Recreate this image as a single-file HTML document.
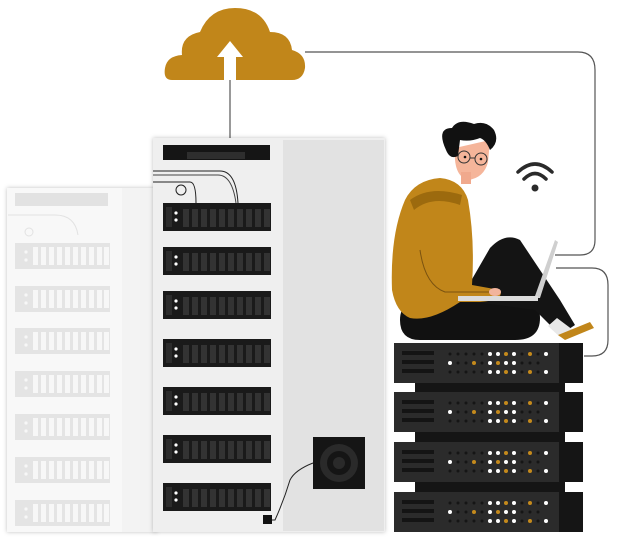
<!DOCTYPE html>
<html><head><meta charset="utf-8"><style>html,body{margin:0;padding:0;background:#fff}svg{display:block}</style></head>
<body>
<svg width="622" height="540" viewBox="0 0 622 540" xmlns="http://www.w3.org/2000/svg" xmlns:xlink="http://www.w3.org/1999/xlink">
<defs>
<g id="slot">
<rect x="0" y="0" width="108" height="28" fill="#1a1a1a"/>
<rect x="3" y="4" width="6" height="20" fill="#2c2c2c"/>
<circle cx="13" cy="10" r="1.6" fill="#fff"/><circle cx="13" cy="17" r="1.6" fill="#fff"/>
<g fill="#333">
<rect x="20" y="6" width="6" height="18"/><rect x="29" y="6" width="6" height="18"/><rect x="38" y="6" width="6" height="18"/><rect x="47" y="6" width="6" height="18"/><rect x="56" y="6" width="6" height="18"/><rect x="65" y="6" width="6" height="18"/><rect x="74" y="6" width="6" height="18"/><rect x="83" y="6" width="6" height="18"/><rect x="92" y="6" width="6" height="18"/><rect x="101" y="6" width="6" height="18"/>
</g></g>
<g id="fslot">
<rect x="0" y="0" width="95" height="26" fill="#e4e4e4"/>
<g fill="#f7f7f7">
<rect x="18" y="4" width="5" height="18"/><rect x="26" y="4" width="5" height="18"/><rect x="34" y="4" width="5" height="18"/><rect x="42" y="4" width="5" height="18"/><rect x="50" y="4" width="5" height="18"/><rect x="58" y="4" width="5" height="18"/><rect x="66" y="4" width="5" height="18"/><rect x="74" y="4" width="5" height="18"/><rect x="82" y="4" width="5" height="18"/><rect x="89" y="4" width="5" height="18"/>
<circle cx="11" cy="9" r="1.6"/><circle cx="11" cy="17" r="1.6"/></g></g>
<g id="face">
<rect x="163" y="0" width="26" height="40" fill="#151515"/>
<rect x="0" y="0" width="165" height="40" fill="#2b2b2b"/>
<rect x="8" y="8" width="32" height="4" fill="#141414"/><rect x="8" y="17" width="32" height="4" fill="#141414"/><rect x="8" y="26" width="32" height="4" fill="#141414"/>
<g fill="#151515"><circle cx="56" cy="11" r="1.5"/><circle cx="64" cy="11" r="1.5"/><circle cx="72" cy="11" r="1.5"/><circle cx="80" cy="11" r="1.5"/><circle cx="88" cy="11" r="1.5"/><circle cx="120" cy="11" r="1.5"/><circle cx="128" cy="11" r="1.5"/><circle cx="144" cy="11" r="1.5"/>
<circle cx="64" cy="20" r="1.5"/><circle cx="72" cy="20" r="1.5"/><circle cx="88" cy="20" r="1.5"/><circle cx="120" cy="20" r="1.5"/><circle cx="128" cy="20" r="1.5"/><circle cx="136" cy="20" r="1.5"/><circle cx="144" cy="20" r="1.5"/>
<circle cx="56" cy="29" r="1.5"/><circle cx="64" cy="29" r="1.5"/><circle cx="72" cy="29" r="1.5"/><circle cx="80" cy="29" r="1.5"/><circle cx="88" cy="29" r="1.5"/><circle cx="120" cy="29" r="1.5"/><circle cx="128" cy="29" r="1.5"/><circle cx="144" cy="29" r="1.5"/></g>
<g fill="#fff"><circle cx="96" cy="11" r="2"/><circle cx="104" cy="11" r="2"/><circle cx="120" cy="11" r="2"/><circle cx="152" cy="11" r="2"/>
<circle cx="56" cy="20" r="2"/><circle cx="96" cy="20" r="2"/><circle cx="112" cy="20" r="2"/><circle cx="120" cy="20" r="2"/>
<circle cx="96" cy="29" r="2"/><circle cx="104" cy="29" r="2"/><circle cx="120" cy="29" r="2"/><circle cx="152" cy="29" r="2"/></g>
<g fill="#c58a1c"><circle cx="112" cy="11" r="2"/><circle cx="136" cy="11" r="2"/><circle cx="80" cy="20" r="2"/><circle cx="104" cy="20" r="2"/><circle cx="112" cy="29" r="2"/><circle cx="136" cy="29" r="2"/></g>
</g>
<g id="unit"><rect x="21" y="40" width="150" height="10" fill="#151515"/><use xlink:href="#face"/></g>
<filter id="sh" x="-10%" y="-10%" width="120%" height="120%"><feDropShadow dx="0" dy="0" stdDeviation="2" flood-opacity="0.25"/></filter>
</defs>

<g fill="none" stroke="#555" stroke-width="1.2">
<path d="M230 80 V138"/>
<path d="M305 52 H578 Q595 52 595 70 V240 Q595 255 580 255 H555"/>
<path d="M556 268 H592 Q608 268 608 285 V340 Q608 356 592 356 H584"/>
</g>

<path d="M172 80 Q163 80 165 68 Q167 56 182 55 Q180 36 200 32 Q210 8 235 8 Q262 8 270 32 Q290 32 292 50 Q306 54 305 68 Q303 80 292 80 Z" fill="#c1861a"/>
<path d="M230 41 L243 57 H236 V80 H224 V57 H217 Z" fill="#fff"/>

<g filter="url(#sh)"><rect x="7" y="188" width="150" height="344" fill="#f8f8f8"/></g>
<rect x="122" y="188" width="35" height="344" fill="#f3f3f3"/>
<rect x="15" y="193" width="93" height="13" fill="#e2e2e2"/>
<g fill="none" stroke="#e2e2e2" stroke-width="1"><path d="M8 215 H55 Q75 215 78 235"/><circle cx="29" cy="232" r="4"/></g>
<use xlink:href="#fslot" x="15" y="243"/><use xlink:href="#fslot" x="15" y="286"/><use xlink:href="#fslot" x="15" y="328"/><use xlink:href="#fslot" x="15" y="371"/><use xlink:href="#fslot" x="15" y="414"/><use xlink:href="#fslot" x="15" y="457"/><use xlink:href="#fslot" x="15" y="500"/>

<g filter="url(#sh)"><rect x="153" y="138" width="232" height="394" fill="#efefef"/></g>
<rect x="283" y="140" width="101" height="391" fill="#e2e2e2"/>
<rect x="163" y="145" width="107" height="15" fill="#151515"/><rect x="187" y="152" width="58" height="7" fill="#2e2e2e"/>
<g fill="none" stroke="#222" stroke-width="1">
<path d="M153 171 H220 Q236 171 238 203"/><path d="M153 175 H218 Q232 175 236 203" stroke="#444"/>
<path d="M153 182 H190 Q196 182 196 203"/><circle cx="181" cy="190" r="5"/>
</g>
<use xlink:href="#slot" x="163" y="203"/><use xlink:href="#slot" x="163" y="247"/><use xlink:href="#slot" x="163" y="291"/><use xlink:href="#slot" x="163" y="339"/><use xlink:href="#slot" x="163" y="387"/><use xlink:href="#slot" x="163" y="435"/><use xlink:href="#slot" x="163" y="483"/>
<rect x="313" y="437" width="52" height="52" fill="#151515"/>
<circle cx="339" cy="463" r="19" fill="#2a2a2a"/><circle cx="339" cy="463" r="12" fill="#151515"/><circle cx="339" cy="463" r="6" fill="#2a2a2a"/>
<path d="M313 463 Q295 470 290 480 Q284 500 275 520 H268" fill="none" stroke="#222" stroke-width="1"/>
<rect x="263" y="515" width="9" height="9" fill="#111"/>

<use xlink:href="#unit" x="394" y="343"/><use xlink:href="#unit" x="394" y="392"/><use xlink:href="#unit" x="394" y="442"/><use xlink:href="#face" x="394" y="492"/>

<g fill="none" stroke="#2a2a2a" stroke-width="3.5" stroke-linecap="round">
<path d="M518 172 Q535 156 552 172"/><path d="M524 179 Q535 168 546 179"/></g>
<circle cx="535" cy="188" r="3.5" fill="#2a2a2a"/>

<path d="M400 320 Q400 298 430 296 H510 Q540 298 540 318 Q540 340 515 340 H420 Q400 340 400 320 Z" fill="#111"/>
<path d="M460 300 L490 248 Q505 232 520 240 L560 300 L575 325 L560 335 L535 310 Z" fill="#141414"/>
<path d="M557 318 L573 330 L560 337 L548 326 Z" fill="#e8e8e8"/>
<path d="M558 335 L590 322 L594 328 L565 340 Z" fill="#c1861a"/>
<path d="M392 290 Q390 235 405 200 Q415 180 440 178 Q462 180 468 200 Q475 240 472 285 L500 290 Q505 300 480 302 H460 Q430 322 410 318 Q396 312 392 290 Z" fill="#c1861a"/>
<path d="M410 200 Q430 185 462 195 L460 205 Q432 195 414 210 Z" fill="#9c6a0e"/>
<path d="M420 250 Q425 285 445 292 L490 292" fill="none" stroke="#7a5210" stroke-width="1"/>
<path d="M458 298 H540 L558 242 L555 240 L535 296 H458 Z" fill="#cfcfcf"/>
<rect x="458" y="296" width="80" height="5" fill="#dcdcdc"/>
<ellipse cx="495" cy="292" rx="6" ry="4" fill="#f2b49c"/>
<path d="M455 148 Q453 176 468 180 Q484 178 488 162 L490 140 Z" fill="#f5b59a"/>
<rect x="461" y="172" width="10" height="12" fill="#f0a98d"/>
<path d="M446 150 Q436 128 452 128 Q458 118 474 124 Q486 120 494 130 Q500 142 490 150 Q486 140 480 138 Q470 142 460 140 L458 156 Q450 160 446 150 Z" fill="#111"/>
<g fill="none" stroke="#333" stroke-width="1"><circle cx="464" cy="157" r="6"/><circle cx="481" cy="159" r="6"/><path d="M470 158 H475"/></g>
<circle cx="465" cy="157" r="1.3" fill="#111"/><circle cx="481" cy="159" r="1.3" fill="#111"/>
</svg>
</body></html>
